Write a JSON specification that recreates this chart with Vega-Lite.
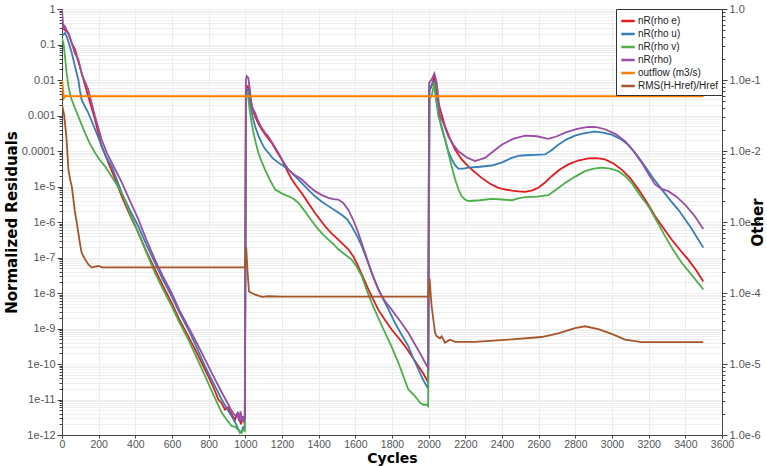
{
  "$schema": "https://vega.github.io/schema/vega-lite/v6.json",
  "width": 660,
  "height": 426,
  "autosize": {"type": "none"},
  "padding": {"left": 62, "top": 9, "right": 45, "bottom": 32},
  "background": "white",
  "config": {
    "view": {"stroke": null},
    "font": "Liberation Sans",
    "axis": {
      "domainColor": "#444444",
      "tickColor": "#444444",
      "labelColor": "#555555",
      "labelFontSize": 11,
      "titleFontSize": 15,
      "titleFontWeight": "bold",
      "titleColor": "#000000",
      "titleFont": "DejaVu Sans",
      "labelPadding": 2
    }
  },
  "datasets": {
    "res": [
      {"s":"nR(rho e)","c":0,"v":0.32},{"s":"nR(rho e)","c":10,"v":0.27},{"s":"nR(rho e)","c":35,"v":0.21},{"s":"nR(rho e)","c":53,"v":0.11},{"s":"nR(rho e)","c":71,"v":0.072},{"s":"nR(rho e)","c":89,"v":0.033},{"s":"nR(rho e)","c":107,"v":0.016},{"s":"nR(rho e)","c":125,"v":0.0075},{"s":"nR(rho e)","c":143,"v":0.0035},{"s":"nR(rho e)","c":162,"v":0.0016},{"s":"nR(rho e)","c":180,"v":0.00077},{"s":"nR(rho e)","c":198,"v":0.00032},{"s":"nR(rho e)","c":216,"v":0.000137},{"s":"nR(rho e)","c":235,"v":0.00008},{"s":"nR(rho e)","c":253,"v":0.000047},{"s":"nR(rho e)","c":290,"v":0.000016},{"s":"nR(rho e)","c":326,"v":5.3e-6},{"s":"nR(rho e)","c":370,"v":1.6e-6},{"s":"nR(rho e)","c":416,"v":5.0e-7},{"s":"nR(rho e)","c":460,"v":1.5e-7},{"s":"nR(rho e)","c":507,"v":4.6e-8},{"s":"nR(rho e)","c":550,"v":1.6e-8},{"s":"nR(rho e)","c":598,"v":5.3e-9},{"s":"nR(rho e)","c":640,"v":1.8e-9},{"s":"nR(rho e)","c":689,"v":6.0e-10},{"s":"nR(rho e)","c":735,"v":2.1e-10},{"s":"nR(rho e)","c":780,"v":7.0e-11},{"s":"nR(rho e)","c":820,"v":2.6e-11},{"s":"nR(rho e)","c":853,"v":1.0e-11},{"s":"nR(rho e)","c":870,"v":8e-12},{"s":"nR(rho e)","c":889,"v":5.2e-12},{"s":"nR(rho e)","c":905,"v":6e-12},{"s":"nR(rho e)","c":916,"v":4.7e-12},{"s":"nR(rho e)","c":930,"v":3.5e-12},{"s":"nR(rho e)","c":944,"v":2.7e-12},{"s":"nR(rho e)","c":953,"v":3.9e-12},{"s":"nR(rho e)","c":962,"v":3.8e-12},{"s":"nR(rho e)","c":970,"v":2.6e-12},{"s":"nR(rho e)","c":976,"v":2.0e-12},{"s":"nR(rho e)","c":983,"v":3.2e-12},{"s":"nR(rho e)","c":989,"v":3.0e-12},{"s":"nR(rho e)","c":997,"v":2.5e-12},{"s":"nR(rho e)","c":1003,"v":0.006},{"s":"nR(rho e)","c":1013,"v":0.0067},{"s":"nR(rho e)","c":1025,"v":0.0035},{"s":"nR(rho e)","c":1040,"v":0.0015},{"s":"nR(rho e)","c":1053,"v":0.00095},{"s":"nR(rho e)","c":1070,"v":0.0006},{"s":"nR(rho e)","c":1089,"v":0.00041},{"s":"nR(rho e)","c":1115,"v":0.00026},{"s":"nR(rho e)","c":1144,"v":0.00017},{"s":"nR(rho e)","c":1170,"v":0.0001},{"s":"nR(rho e)","c":1198,"v":0.000058},{"s":"nR(rho e)","c":1225,"v":0.00003},{"s":"nR(rho e)","c":1253,"v":0.000016},{"s":"nR(rho e)","c":1280,"v":0.00001},{"s":"nR(rho e)","c":1307,"v":6.6e-6},{"s":"nR(rho e)","c":1344,"v":3.4e-6},{"s":"nR(rho e)","c":1380,"v":1.8e-6},{"s":"nR(rho e)","c":1435,"v":7.6e-7},{"s":"nR(rho e)","c":1470,"v":4.8e-7},{"s":"nR(rho e)","c":1507,"v":3.2e-7},{"s":"nR(rho e)","c":1535,"v":2.3e-7},{"s":"nR(rho e)","c":1562,"v":1.7e-7},{"s":"nR(rho e)","c":1590,"v":1.05e-7},{"s":"nR(rho e)","c":1616,"v":5.6e-8},{"s":"nR(rho e)","c":1645,"v":2.6e-8},{"s":"nR(rho e)","c":1671,"v":1.26e-8},{"s":"nR(rho e)","c":1700,"v":6.2e-9},{"s":"nR(rho e)","c":1725,"v":3.4e-9},{"s":"nR(rho e)","c":1760,"v":1.8e-9},{"s":"nR(rho e)","c":1798,"v":9.4e-10},{"s":"nR(rho e)","c":1835,"v":5.5e-10},{"s":"nR(rho e)","c":1871,"v":3.2e-10},{"s":"nR(rho e)","c":1910,"v":1.6e-10},{"s":"nR(rho e)","c":1944,"v":8.7e-11},{"s":"nR(rho e)","c":1970,"v":5.5e-11},{"s":"nR(rho e)","c":1996,"v":3.1e-11},{"s":"nR(rho e)","c":2003,"v":0.005},{"s":"nR(rho e)","c":2016,"v":0.0067},{"s":"nR(rho e)","c":2031,"v":0.0128},{"s":"nR(rho e)","c":2040,"v":0.006},{"s":"nR(rho e)","c":2053,"v":0.0023},{"s":"nR(rho e)","c":2070,"v":0.0011},{"s":"nR(rho e)","c":2089,"v":0.0005},{"s":"nR(rho e)","c":2115,"v":0.00023},{"s":"nR(rho e)","c":2144,"v":0.00011},{"s":"nR(rho e)","c":2180,"v":0.000058},{"s":"nR(rho e)","c":2216,"v":0.000037},{"s":"nR(rho e)","c":2253,"v":0.000025},{"s":"nR(rho e)","c":2289,"v":0.0000175},{"s":"nR(rho e)","c":2335,"v":0.000012},{"s":"nR(rho e)","c":2380,"v":9.2e-6},{"s":"nR(rho e)","c":2420,"v":8.2e-6},{"s":"nR(rho e)","c":2453,"v":7.7e-6},{"s":"nR(rho e)","c":2490,"v":7.3e-6},{"s":"nR(rho e)","c":2526,"v":7.1e-6},{"s":"nR(rho e)","c":2565,"v":7.8e-6},{"s":"nR(rho e)","c":2598,"v":9.2e-6},{"s":"nR(rho e)","c":2635,"v":0.000013},{"s":"nR(rho e)","c":2671,"v":0.0000195},{"s":"nR(rho e)","c":2715,"v":0.00003},{"s":"nR(rho e)","c":2762,"v":0.000042},{"s":"nR(rho e)","c":2815,"v":0.000054},{"s":"nR(rho e)","c":2871,"v":0.000062},{"s":"nR(rho e)","c":2915,"v":0.000063},{"s":"nR(rho e)","c":2962,"v":0.000058},{"s":"nR(rho e)","c":3010,"v":0.000044},{"s":"nR(rho e)","c":3053,"v":0.00003},{"s":"nR(rho e)","c":3100,"v":0.000017},{"s":"nR(rho e)","c":3144,"v":8.3e-6},{"s":"nR(rho e)","c":3190,"v":3.6e-6},{"s":"nR(rho e)","c":3235,"v":1.45e-6},{"s":"nR(rho e)","c":3280,"v":6.8e-7},{"s":"nR(rho e)","c":3325,"v":3.2e-7},{"s":"nR(rho e)","c":3370,"v":1.65e-7},{"s":"nR(rho e)","c":3416,"v":8.7e-8},{"s":"nR(rho e)","c":3460,"v":4.3e-8},{"s":"nR(rho e)","c":3498,"v":2.1e-8},

      {"s":"nR(rho u)","c":0,"v":0.2},{"s":"nR(rho u)","c":8,"v":0.19},{"s":"nR(rho u)","c":16,"v":0.21},{"s":"nR(rho u)","c":25,"v":0.17},{"s":"nR(rho u)","c":35,"v":0.12},{"s":"nR(rho u)","c":53,"v":0.059},{"s":"nR(rho u)","c":71,"v":0.024},{"s":"nR(rho u)","c":89,"v":0.0103},{"s":"nR(rho u)","c":98,"v":0.005},{"s":"nR(rho u)","c":107,"v":0.0028},{"s":"nR(rho u)","c":125,"v":0.0018},{"s":"nR(rho u)","c":143,"v":0.0012},{"s":"nR(rho u)","c":162,"v":0.0007},{"s":"nR(rho u)","c":180,"v":0.00041},{"s":"nR(rho u)","c":198,"v":0.00024},{"s":"nR(rho u)","c":216,"v":0.000137},{"s":"nR(rho u)","c":240,"v":0.00007},{"s":"nR(rho u)","c":271,"v":0.000037},{"s":"nR(rho u)","c":300,"v":0.000015},{"s":"nR(rho u)","c":326,"v":6.6e-6},{"s":"nR(rho u)","c":370,"v":2.2e-6},{"s":"nR(rho u)","c":416,"v":7.6e-7},{"s":"nR(rho u)","c":460,"v":2.3e-7},{"s":"nR(rho u)","c":507,"v":7.1e-8},{"s":"nR(rho u)","c":550,"v":2.4e-8},{"s":"nR(rho u)","c":598,"v":8.1e-9},{"s":"nR(rho u)","c":640,"v":2.8e-9},{"s":"nR(rho u)","c":689,"v":9.4e-10},{"s":"nR(rho u)","c":735,"v":2.9e-10},{"s":"nR(rho u)","c":780,"v":8.7e-11},{"s":"nR(rho u)","c":825,"v":3e-11},{"s":"nR(rho u)","c":871,"v":1.0e-11},{"s":"nR(rho u)","c":900,"v":5.5e-12},{"s":"nR(rho u)","c":925,"v":3.4e-12},{"s":"nR(rho u)","c":950,"v":2e-12},{"s":"nR(rho u)","c":971,"v":1.15e-12},{"s":"nR(rho u)","c":980,"v":1.3e-12},{"s":"nR(rho u)","c":989,"v":1.7e-12},{"s":"nR(rho u)","c":997,"v":1.6e-12},{"s":"nR(rho u)","c":1004,"v":0.005},{"s":"nR(rho u)","c":1013,"v":0.0054},{"s":"nR(rho u)","c":1025,"v":0.0023},{"s":"nR(rho u)","c":1040,"v":0.0009},{"s":"nR(rho u)","c":1053,"v":0.0005},{"s":"nR(rho u)","c":1070,"v":0.00028},{"s":"nR(rho u)","c":1089,"v":0.00017},{"s":"nR(rho u)","c":1107,"v":0.000115},{"s":"nR(rho u)","c":1125,"v":0.000089},{"s":"nR(rho u)","c":1150,"v":0.000062},{"s":"nR(rho u)","c":1180,"v":0.000047},{"s":"nR(rho u)","c":1210,"v":0.000037},{"s":"nR(rho u)","c":1235,"v":0.00003},{"s":"nR(rho u)","c":1270,"v":0.00002},{"s":"nR(rho u)","c":1307,"v":0.0000126},{"s":"nR(rho u)","c":1344,"v":8e-6},{"s":"nR(rho u)","c":1380,"v":5.3e-6},{"s":"nR(rho u)","c":1415,"v":3.8e-6},{"s":"nR(rho u)","c":1453,"v":2.8e-6},{"s":"nR(rho u)","c":1490,"v":2.1e-6},{"s":"nR(rho u)","c":1525,"v":1.6e-6},{"s":"nR(rho u)","c":1555,"v":1.2e-6},{"s":"nR(rho u)","c":1580,"v":7.6e-7},{"s":"nR(rho u)","c":1610,"v":4e-7},{"s":"nR(rho u)","c":1635,"v":2.1e-7},{"s":"nR(rho u)","c":1662,"v":9e-8},{"s":"nR(rho u)","c":1689,"v":3.7e-8},{"s":"nR(rho u)","c":1716,"v":1.7e-8},{"s":"nR(rho u)","c":1744,"v":8.1e-9},{"s":"nR(rho u)","c":1780,"v":3.5e-9},{"s":"nR(rho u)","c":1816,"v":1.45e-9},{"s":"nR(rho u)","c":1850,"v":7e-10},{"s":"nR(rho u)","c":1889,"v":3.2e-10},{"s":"nR(rho u)","c":1915,"v":1.5e-10},{"s":"nR(rho u)","c":1944,"v":7.0e-11},{"s":"nR(rho u)","c":1970,"v":3.6e-11},{"s":"nR(rho u)","c":1997,"v":2.0e-11},{"s":"nR(rho u)","c":2005,"v":0.005},{"s":"nR(rho u)","c":2016,"v":0.0075},{"s":"nR(rho u)","c":2027,"v":0.009},{"s":"nR(rho u)","c":2040,"v":0.003},{"s":"nR(rho u)","c":2053,"v":0.0012},{"s":"nR(rho u)","c":2070,"v":0.00045},{"s":"nR(rho u)","c":2089,"v":0.00021},{"s":"nR(rho u)","c":2107,"v":0.0001},{"s":"nR(rho u)","c":2126,"v":0.000058},{"s":"nR(rho u)","c":2144,"v":0.00004},{"s":"nR(rho u)","c":2162,"v":0.000032},{"s":"nR(rho u)","c":2190,"v":0.000032},{"s":"nR(rho u)","c":2216,"v":0.000034},{"s":"nR(rho u)","c":2280,"v":0.000036},{"s":"nR(rho u)","c":2344,"v":0.000039},{"s":"nR(rho u)","c":2400,"v":0.000048},{"s":"nR(rho u)","c":2453,"v":0.000064},{"s":"nR(rho u)","c":2490,"v":0.000073},{"s":"nR(rho u)","c":2526,"v":0.000076},{"s":"nR(rho u)","c":2580,"v":0.000078},{"s":"nR(rho u)","c":2635,"v":0.00008},{"s":"nR(rho u)","c":2670,"v":0.000105},{"s":"nR(rho u)","c":2707,"v":0.00015},{"s":"nR(rho u)","c":2750,"v":0.00021},{"s":"nR(rho u)","c":2798,"v":0.00027},{"s":"nR(rho u)","c":2850,"v":0.00032},{"s":"nR(rho u)","c":2907,"v":0.00035},{"s":"nR(rho u)","c":2950,"v":0.00033},{"s":"nR(rho u)","c":2998,"v":0.00029},{"s":"nR(rho u)","c":3045,"v":0.00022},{"s":"nR(rho u)","c":3089,"v":0.00015},{"s":"nR(rho u)","c":3135,"v":0.000078},{"s":"nR(rho u)","c":3180,"v":0.000037},{"s":"nR(rho u)","c":3225,"v":0.000017},{"s":"nR(rho u)","c":3271,"v":8.3e-6},{"s":"nR(rho u)","c":3316,"v":4.2e-6},{"s":"nR(rho u)","c":3362,"v":2.2e-6},{"s":"nR(rho u)","c":3430,"v":7e-7},{"s":"nR(rho u)","c":3498,"v":1.9e-7},

      {"s":"nR(rho v)","c":0,"v":0.15},{"s":"nR(rho v)","c":8,"v":0.11},{"s":"nR(rho v)","c":16,"v":0.047},{"s":"nR(rho v)","c":25,"v":0.016},{"s":"nR(rho v)","c":35,"v":0.0067},{"s":"nR(rho v)","c":44,"v":0.004},{"s":"nR(rho v)","c":53,"v":0.0028},{"s":"nR(rho v)","c":71,"v":0.0016},{"s":"nR(rho v)","c":89,"v":0.00095},{"s":"nR(rho v)","c":107,"v":0.00055},{"s":"nR(rho v)","c":125,"v":0.00033},{"s":"nR(rho v)","c":150,"v":0.00017},{"s":"nR(rho v)","c":180,"v":0.000089},{"s":"nR(rho v)","c":207,"v":0.000055},{"s":"nR(rho v)","c":235,"v":0.000037},{"s":"nR(rho v)","c":280,"v":0.000016},{"s":"nR(rho v)","c":326,"v":6.6e-6},{"s":"nR(rho v)","c":370,"v":1.8e-6},{"s":"nR(rho v)","c":416,"v":5.0e-7},{"s":"nR(rho v)","c":460,"v":1.4e-7},{"s":"nR(rho v)","c":507,"v":3.7e-8},{"s":"nR(rho v)","c":550,"v":1.3e-8},{"s":"nR(rho v)","c":598,"v":4.3e-9},{"s":"nR(rho v)","c":640,"v":1.5e-9},{"s":"nR(rho v)","c":689,"v":4.9e-10},{"s":"nR(rho v)","c":735,"v":1.5e-10},{"s":"nR(rho v)","c":780,"v":4.6e-11},{"s":"nR(rho v)","c":825,"v":1.4e-11},{"s":"nR(rho v)","c":871,"v":4.3e-12},{"s":"nR(rho v)","c":900,"v":2.6e-12},{"s":"nR(rho v)","c":925,"v":1.8e-12},{"s":"nR(rho v)","c":945,"v":1.7e-12},{"s":"nR(rho v)","c":962,"v":1.4e-12},{"s":"nR(rho v)","c":972,"v":1.2e-12},{"s":"nR(rho v)","c":980,"v":1.15e-12},{"s":"nR(rho v)","c":988,"v":1.4e-12},{"s":"nR(rho v)","c":997,"v":1.3e-12},{"s":"nR(rho v)","c":1004,"v":0.004},{"s":"nR(rho v)","c":1013,"v":0.0044},{"s":"nR(rho v)","c":1025,"v":0.0012},{"s":"nR(rho v)","c":1035,"v":0.0006},{"s":"nR(rho v)","c":1044,"v":0.00033},{"s":"nR(rho v)","c":1057,"v":0.00017},{"s":"nR(rho v)","c":1071,"v":0.000089},{"s":"nR(rho v)","c":1089,"v":0.00005},{"s":"nR(rho v)","c":1107,"v":0.00003},{"s":"nR(rho v)","c":1135,"v":0.000015},{"s":"nR(rho v)","c":1162,"v":8.3e-6},{"s":"nR(rho v)","c":1200,"v":6.3e-6},{"s":"nR(rho v)","c":1235,"v":5.3e-6},{"s":"nR(rho v)","c":1262,"v":4.5e-6},{"s":"nR(rho v)","c":1289,"v":3.5e-6},{"s":"nR(rho v)","c":1316,"v":2.3e-6},{"s":"nR(rho v)","c":1344,"v":1.45e-6},{"s":"nR(rho v)","c":1370,"v":9.5e-7},{"s":"nR(rho v)","c":1398,"v":6.2e-7},{"s":"nR(rho v)","c":1425,"v":4.4e-7},{"s":"nR(rho v)","c":1453,"v":3.2e-7},{"s":"nR(rho v)","c":1480,"v":2.4e-7},{"s":"nR(rho v)","c":1507,"v":1.7e-7},{"s":"nR(rho v)","c":1545,"v":1.2e-7},{"s":"nR(rho v)","c":1580,"v":8.7e-8},{"s":"nR(rho v)","c":1608,"v":5.5e-8},{"s":"nR(rho v)","c":1635,"v":3.0e-8},{"s":"nR(rho v)","c":1662,"v":1.2e-8},{"s":"nR(rho v)","c":1689,"v":5.3e-9},{"s":"nR(rho v)","c":1725,"v":2e-9},{"s":"nR(rho v)","c":1762,"v":7.6e-10},{"s":"nR(rho v)","c":1800,"v":2.9e-10},{"s":"nR(rho v)","c":1835,"v":1.08e-10},{"s":"nR(rho v)","c":1862,"v":4.5e-11},{"s":"nR(rho v)","c":1889,"v":1.9e-11},{"s":"nR(rho v)","c":1910,"v":1.5e-11},{"s":"nR(rho v)","c":1925,"v":1.24e-11},{"s":"nR(rho v)","c":1940,"v":1e-11},{"s":"nR(rho v)","c":1953,"v":8.1e-12},{"s":"nR(rho v)","c":1975,"v":7e-12},{"s":"nR(rho v)","c":1985,"v":7.2e-12},{"s":"nR(rho v)","c":1997,"v":6.5e-12},{"s":"nR(rho v)","c":2005,"v":0.003},{"s":"nR(rho v)","c":2016,"v":0.0035},{"s":"nR(rho v)","c":2031,"v":0.0083},{"s":"nR(rho v)","c":2040,"v":0.003},{"s":"nR(rho v)","c":2053,"v":0.00095},{"s":"nR(rho v)","c":2071,"v":0.0005},{"s":"nR(rho v)","c":2089,"v":0.00022},{"s":"nR(rho v)","c":2107,"v":0.000089},{"s":"nR(rho v)","c":2125,"v":0.000038},{"s":"nR(rho v)","c":2144,"v":0.000016},{"s":"nR(rho v)","c":2162,"v":8.5e-6},{"s":"nR(rho v)","c":2180,"v":5.3e-6},{"s":"nR(rho v)","c":2198,"v":4.3e-6},{"s":"nR(rho v)","c":2216,"v":3.9e-6},{"s":"nR(rho v)","c":2280,"v":4.1e-6},{"s":"nR(rho v)","c":2344,"v":4.5e-6},{"s":"nR(rho v)","c":2400,"v":4.3e-6},{"s":"nR(rho v)","c":2453,"v":4.1e-6},{"s":"nR(rho v)","c":2490,"v":4.6e-6},{"s":"nR(rho v)","c":2526,"v":5.0e-6},{"s":"nR(rho v)","c":2590,"v":5.2e-6},{"s":"nR(rho v)","c":2653,"v":5.7e-6},{"s":"nR(rho v)","c":2700,"v":8.5e-6},{"s":"nR(rho v)","c":2744,"v":0.0000126},{"s":"nR(rho v)","c":2800,"v":0.000019},{"s":"nR(rho v)","c":2853,"v":0.000027},{"s":"nR(rho v)","c":2900,"v":0.000032},{"s":"nR(rho v)","c":2944,"v":0.000034},{"s":"nR(rho v)","c":2990,"v":0.000032},{"s":"nR(rho v)","c":3035,"v":0.000027},{"s":"nR(rho v)","c":3070,"v":0.00002},{"s":"nR(rho v)","c":3107,"v":0.0000126},{"s":"nR(rho v)","c":3150,"v":6e-6},{"s":"nR(rho v)","c":3198,"v":2.8e-6},{"s":"nR(rho v)","c":3245,"v":1.05e-6},{"s":"nR(rho v)","c":3289,"v":4.0e-7},{"s":"nR(rho v)","c":3335,"v":1.6e-7},{"s":"nR(rho v)","c":3380,"v":7.1e-8},{"s":"nR(rho v)","c":3440,"v":3e-8},{"s":"nR(rho v)","c":3498,"v":1.26e-8},

      {"s":"nR(rho)","c":0,"v":0.95},{"s":"nR(rho)","c":4,"v":0.5},{"s":"nR(rho)","c":8,"v":0.26},{"s":"nR(rho)","c":16,"v":0.33},{"s":"nR(rho)","c":25,"v":0.26},{"s":"nR(rho)","c":35,"v":0.2},{"s":"nR(rho)","c":53,"v":0.11},{"s":"nR(rho)","c":71,"v":0.055},{"s":"nR(rho)","c":89,"v":0.038},{"s":"nR(rho)","c":107,"v":0.015},{"s":"nR(rho)","c":125,"v":0.009},{"s":"nR(rho)","c":143,"v":0.0054},{"s":"nR(rho)","c":162,"v":0.0022},{"s":"nR(rho)","c":180,"v":0.00095},{"s":"nR(rho)","c":198,"v":0.00045},{"s":"nR(rho)","c":216,"v":0.00021},{"s":"nR(rho)","c":244,"v":0.00009},{"s":"nR(rho)","c":271,"v":0.000048},{"s":"nR(rho)","c":300,"v":0.000024},{"s":"nR(rho)","c":326,"v":0.000013},{"s":"nR(rho)","c":370,"v":4e-6},{"s":"nR(rho)","c":416,"v":1.2e-6},{"s":"nR(rho)","c":460,"v":3.2e-7},{"s":"nR(rho)","c":507,"v":8.7e-8},{"s":"nR(rho)","c":550,"v":3e-8},{"s":"nR(rho)","c":598,"v":1.0e-8},{"s":"nR(rho)","c":640,"v":3.3e-9},{"s":"nR(rho)","c":689,"v":1.1e-9},{"s":"nR(rho)","c":735,"v":3.9e-10},{"s":"nR(rho)","c":780,"v":1.35e-10},{"s":"nR(rho)","c":825,"v":4.6e-11},{"s":"nR(rho)","c":871,"v":1.6e-11},{"s":"nR(rho)","c":900,"v":8.5e-12},{"s":"nR(rho)","c":916,"v":5.9e-12},{"s":"nR(rho)","c":935,"v":4e-12},{"s":"nR(rho)","c":953,"v":3.2e-12},{"s":"nR(rho)","c":960,"v":4.5e-12},{"s":"nR(rho)","c":965,"v":2.5e-12},{"s":"nR(rho)","c":974,"v":4.6e-12},{"s":"nR(rho)","c":982,"v":2.3e-12},{"s":"nR(rho)","c":987,"v":3.4e-12},{"s":"nR(rho)","c":992,"v":2.5e-12},{"s":"nR(rho)","c":998,"v":3.0e-12},{"s":"nR(rho)","c":1003,"v":0.0103},{"s":"nR(rho)","c":1008,"v":0.0128},{"s":"nR(rho)","c":1016,"v":0.0115},{"s":"nR(rho)","c":1025,"v":0.0054},{"s":"nR(rho)","c":1034,"v":0.0018},{"s":"nR(rho)","c":1053,"v":0.0012},{"s":"nR(rho)","c":1070,"v":0.0007},{"s":"nR(rho)","c":1089,"v":0.00045},{"s":"nR(rho)","c":1107,"v":0.00033},{"s":"nR(rho)","c":1125,"v":0.00026},{"s":"nR(rho)","c":1150,"v":0.00016},{"s":"nR(rho)","c":1180,"v":0.000089},{"s":"nR(rho)","c":1207,"v":0.00005},{"s":"nR(rho)","c":1235,"v":0.00003},{"s":"nR(rho)","c":1270,"v":0.000021},{"s":"nR(rho)","c":1307,"v":0.000016},{"s":"nR(rho)","c":1344,"v":0.0000105},{"s":"nR(rho)","c":1380,"v":7.4e-6},{"s":"nR(rho)","c":1415,"v":5.8e-6},{"s":"nR(rho)","c":1453,"v":4.8e-6},{"s":"nR(rho)","c":1480,"v":4.4e-6},{"s":"nR(rho)","c":1507,"v":4.3e-6},{"s":"nR(rho)","c":1535,"v":3.4e-6},{"s":"nR(rho)","c":1562,"v":2.2e-6},{"s":"nR(rho)","c":1590,"v":1.1e-6},{"s":"nR(rho)","c":1616,"v":5.0e-7},{"s":"nR(rho)","c":1645,"v":1.8e-7},{"s":"nR(rho)","c":1671,"v":7.1e-8},{"s":"nR(rho)","c":1698,"v":2.8e-8},{"s":"nR(rho)","c":1725,"v":1.26e-8},{"s":"nR(rho)","c":1760,"v":6e-9},{"s":"nR(rho)","c":1798,"v":3.4e-9},{"s":"nR(rho)","c":1845,"v":1.6e-9},{"s":"nR(rho)","c":1889,"v":7.6e-10},{"s":"nR(rho)","c":1925,"v":3.6e-10},{"s":"nR(rho)","c":1962,"v":1.66e-10},{"s":"nR(rho)","c":1980,"v":1.1e-10},{"s":"nR(rho)","c":1998,"v":7.6e-11},{"s":"nR(rho)","c":2002,"v":0.0083},{"s":"nR(rho)","c":2016,"v":0.0103},{"s":"nR(rho)","c":2031,"v":0.0152},{"s":"nR(rho)","c":2044,"v":0.0083},{"s":"nR(rho)","c":2053,"v":0.003},{"s":"nR(rho)","c":2062,"v":0.00095},{"s":"nR(rho)","c":2080,"v":0.00062},{"s":"nR(rho)","c":2107,"v":0.00026},{"s":"nR(rho)","c":2135,"v":0.00015},{"s":"nR(rho)","c":2162,"v":0.000098},{"s":"nR(rho)","c":2210,"v":0.000065},{"s":"nR(rho)","c":2253,"v":0.000052},{"s":"nR(rho)","c":2307,"v":0.000064},{"s":"nR(rho)","c":2350,"v":0.000095},{"s":"nR(rho)","c":2398,"v":0.00015},{"s":"nR(rho)","c":2460,"v":0.00022},{"s":"nR(rho)","c":2526,"v":0.00027},{"s":"nR(rho)","c":2590,"v":0.00026},{"s":"nR(rho)","c":2653,"v":0.00022},{"s":"nR(rho)","c":2700,"v":0.00026},{"s":"nR(rho)","c":2744,"v":0.00033},{"s":"nR(rho)","c":2810,"v":0.00042},{"s":"nR(rho)","c":2871,"v":0.00048},{"s":"nR(rho)","c":2915,"v":0.00047},{"s":"nR(rho)","c":2962,"v":0.00041},{"s":"nR(rho)","c":3020,"v":0.0003},{"s":"nR(rho)","c":3071,"v":0.00019},{"s":"nR(rho)","c":3120,"v":0.000095},{"s":"nR(rho)","c":3162,"v":0.000047},{"s":"nR(rho)","c":3200,"v":0.000022},{"s":"nR(rho)","c":3235,"v":0.0000114},{"s":"nR(rho)","c":3270,"v":8.6e-6},{"s":"nR(rho)","c":3307,"v":7.4e-6},{"s":"nR(rho)","c":3355,"v":5e-6},{"s":"nR(rho)","c":3398,"v":3.1e-6},{"s":"nR(rho)","c":3450,"v":1.5e-6},{"s":"nR(rho)","c":3498,"v":6.4e-7}
    ],
    "oth": [
      {"s":"outflow (m3/s)","c":0,"v":0.1},{"s":"outflow (m3/s)","c":5,"v":0.08},{"s":"outflow (m3/s)","c":10,"v":0.055},{"s":"outflow (m3/s)","c":20,"v":0.06},{"s":"outflow (m3/s)","c":40,"v":0.059},{"s":"outflow (m3/s)","c":3500,"v":0.059},

      {"s":"RMS(H-Href)/Href","c":0,"v":0.045},{"s":"RMS(H-Href)/Href","c":11,"v":0.033},{"s":"RMS(H-Href)/Href","c":20,"v":0.02},{"s":"RMS(H-Href)/Href","c":25,"v":0.0145},{"s":"RMS(H-Href)/Href","c":35,"v":0.0055},{"s":"RMS(H-Href)/Href","c":44,"v":0.004},{"s":"RMS(H-Href)/Href","c":53,"v":0.0032},{"s":"RMS(H-Href)/Href","c":62,"v":0.0021},{"s":"RMS(H-Href)/Href","c":71,"v":0.00136},{"s":"RMS(H-Href)/Href","c":80,"v":0.001},{"s":"RMS(H-Href)/Href","c":89,"v":0.00071},{"s":"RMS(H-Href)/Href","c":98,"v":0.0005},{"s":"RMS(H-Href)/Href","c":107,"v":0.00037},{"s":"RMS(H-Href)/Href","c":125,"v":0.0003},{"s":"RMS(H-Href)/Href","c":145,"v":0.00025},{"s":"RMS(H-Href)/Href","c":162,"v":0.000228},{"s":"RMS(H-Href)/Href","c":180,"v":0.000235},{"s":"RMS(H-Href)/Href","c":198,"v":0.00024},{"s":"RMS(H-Href)/Href","c":220,"v":0.00023},{"s":"RMS(H-Href)/Href","c":998,"v":0.00023},{"s":"RMS(H-Href)/Href","c":1005,"v":0.00044},{"s":"RMS(H-Href)/Href","c":1012,"v":0.0002},{"s":"RMS(H-Href)/Href","c":1020,"v":0.000105},{"s":"RMS(H-Href)/Href","c":1035,"v":0.0001},{"s":"RMS(H-Href)/Href","c":1053,"v":0.000095},{"s":"RMS(H-Href)/Href","c":1071,"v":0.000092},{"s":"RMS(H-Href)/Href","c":1089,"v":0.000088},{"s":"RMS(H-Href)/Href","c":1125,"v":0.00009},{"s":"RMS(H-Href)/Href","c":1200,"v":0.000089},{"s":"RMS(H-Href)/Href","c":1998,"v":0.000089},{"s":"RMS(H-Href)/Href","c":2005,"v":0.00016},{"s":"RMS(H-Href)/Href","c":2016,"v":0.000065},{"s":"RMS(H-Href)/Href","c":2035,"v":0.0000275},{"s":"RMS(H-Href)/Href","c":2044,"v":0.0000245},{"s":"RMS(H-Href)/Href","c":2062,"v":0.000023},{"s":"RMS(H-Href)/Href","c":2071,"v":0.0000245},{"s":"RMS(H-Href)/Href","c":2089,"v":0.00002},{"s":"RMS(H-Href)/Href","c":2116,"v":0.000022},{"s":"RMS(H-Href)/Href","c":2144,"v":0.0000205},{"s":"RMS(H-Href)/Href","c":2200,"v":0.0000205},{"s":"RMS(H-Href)/Href","c":2253,"v":0.0000205},{"s":"RMS(H-Href)/Href","c":2435,"v":0.000022},{"s":"RMS(H-Href)/Href","c":2616,"v":0.000024},{"s":"RMS(H-Href)/Href","c":2707,"v":0.000027},{"s":"RMS(H-Href)/Href","c":2798,"v":0.000032},{"s":"RMS(H-Href)/Href","c":2853,"v":0.000034},{"s":"RMS(H-Href)/Href","c":2925,"v":0.000031},{"s":"RMS(H-Href)/Href","c":2998,"v":0.0000265},{"s":"RMS(H-Href)/Href","c":3071,"v":0.000022},{"s":"RMS(H-Href)/Href","c":3162,"v":0.0000203},{"s":"RMS(H-Href)/Href","c":3498,"v":0.0000203}
    ]
  },
  "layer": [
    {
      "data": {"name": "res"},
      "mark": {"type": "line", "strokeWidth": 1.8, "clip": true},
      "encoding": {
        "x": {
          "field": "c", "type": "quantitative",
          "scale": {"domain": [0, 3600], "nice": false, "zero": false},
          "axis": {
            "title": "Cycles", "format": "d",
            "values": [0,200,400,600,800,1000,1200,1400,1600,1800,2000,2200,2400,2600,2800,3000,3200,3400,3600],
            "grid": true, "gridColor": "#ebebeb", "tickSize": 3, "labelFlush": false, "labelOverlap": false,
            "titlePadding": 2, "titleFontSize": 14, "labelPadding": 1, "labelFontSize": 10.5
          }
        },
        "y": {
          "field": "v", "type": "quantitative",
          "scale": {"type": "log", "domain": [1e-12, 1], "nice": false},
          "axis": {
            "title": "Normalized Residuals",
            "orient": "left",
            "values": [1e-12,2e-12,3e-12,4e-12,5e-12,6e-12,7e-12,8e-12,9e-12,1e-11,2e-11,3e-11,4e-11,5e-11,6e-11,7e-11,8e-11,9e-11,1e-10,2e-10,3e-10,4e-10,5e-10,6e-10,7e-10,8e-10,9e-10,1e-9,2e-9,3e-9,4e-9,5e-9,6e-9,7e-9,8e-9,9e-9,1e-8,2e-8,3e-8,4e-8,5e-8,6e-8,7e-8,8e-8,9e-8,1e-7,2e-7,3e-7,4e-7,5e-7,6e-7,7e-7,8e-7,9e-7,1e-6,2e-6,3e-6,4e-6,5e-6,6e-6,7e-6,8e-6,9e-6,1e-5,2e-5,3e-5,4e-5,5e-5,6e-5,7e-5,8e-5,9e-5,1e-4,2e-4,3e-4,4e-4,5e-4,6e-4,7e-4,8e-4,9e-4,0.001,0.002,0.003,0.004,0.005,0.006,0.007,0.008,0.009,0.01,0.02,0.03,0.04,0.05,0.06,0.07,0.08,0.09,0.1,0.2,0.3,0.4,0.5,0.6,0.7,0.8,0.9,1],
            "labelExpr": "abs(log(datum.value)/LN10 - round(log(datum.value)/LN10)) > 0.01 ? '' : (round(log(datum.value)/LN10) >= -4 ? format(datum.value, '.' + max(0, -round(log(datum.value)/LN10)) + 'f') : '1e' + round(log(datum.value)/LN10))",
            "labelOverlap": false, "labelFlush": false,
            "tickSize": {"condition": {"test": "abs(log(datum.value)/LN10 - round(log(datum.value)/LN10)) < 0.01", "value": 5}, "value": 3},
            "grid": true, "gridColor": "#efefef",
            "titlePadding": 2
          }
        },
        "color": {
          "field": "s", "type": "nominal",
          "scale": {
            "domain": ["nR(rho e)", "nR(rho u)", "nR(rho v)", "nR(rho)", "outflow (m3/s)", "RMS(H-Href)/Href"],
            "range": ["#e41a1c", "#377eb8", "#4daf4a", "#984ea3", "#ff7f00", "#a65628"]
          },
          "legend": {
            "title": null, "orient": "top-right", "offset": 0, "padding": 4,
            "strokeColor": "#333333", "fillColor": "white",
            "symbolType": "stroke", "symbolStrokeWidth": 2.5, "symbolSize": 180,
            "labelFontSize": 10, "labelColor": "#222222", "rowPadding": 0, "labelOffset": 2
          }
        }
      }
    },
    {
      "data": {"name": "oth"},
      "mark": {"type": "line", "strokeWidth": 1.8, "clip": true},
      "encoding": {
        "x": {
          "field": "c", "type": "quantitative",
          "axis": {
            "title": "Cycles", "format": "d",
            "values": [0,200,400,600,800,1000,1200,1400,1600,1800,2000,2200,2400,2600,2800,3000,3200,3400,3600],
            "grid": true, "gridColor": "#ebebeb", "tickSize": 3, "labelFlush": false, "labelOverlap": false,
            "titlePadding": 2, "titleFontSize": 14, "labelPadding": 1, "labelFontSize": 10.5
          }
        },
        "y": {
          "field": "v", "type": "quantitative",
          "scale": {"type": "log", "domain": [1e-6, 1], "nice": false},
          "axis": {
            "title": "Other",
            "orient": "right",
            "titleAngle": 270,
            "values": [1e-6,2e-6,3e-6,4e-6,5e-6,6e-6,7e-6,8e-6,9e-6,1e-5,2e-5,3e-5,4e-5,5e-5,6e-5,7e-5,8e-5,9e-5,1e-4,2e-4,3e-4,4e-4,5e-4,6e-4,7e-4,8e-4,9e-4,0.001,0.002,0.003,0.004,0.005,0.006,0.007,0.008,0.009,0.01,0.02,0.03,0.04,0.05,0.06,0.07,0.08,0.09,0.1,0.2,0.3,0.4,0.5,0.6,0.7,0.8,0.9,1],
            "labelExpr": "abs(log(datum.value)/LN10 - round(log(datum.value)/LN10)) > 0.01 ? '' : (round(log(datum.value)/LN10) == 0 ? '1.0' : '1.0e' + round(log(datum.value)/LN10))",
            "labelOverlap": false, "labelFlush": false,
            "tickSize": {"condition": {"test": "abs(log(datum.value)/LN10 - round(log(datum.value)/LN10)) < 0.01", "value": 5}, "value": 3},
            "grid": false,
            "titlePadding": 5
          }
        },
        "color": {
          "field": "s", "type": "nominal",
          "scale": {
            "domain": ["nR(rho e)", "nR(rho u)", "nR(rho v)", "nR(rho)", "outflow (m3/s)", "RMS(H-Href)/Href"],
            "range": ["#e41a1c", "#377eb8", "#4daf4a", "#984ea3", "#ff7f00", "#a65628"]
          }
        }
      }
    }
  ],
  "resolve": {"scale": {"y": "independent"}}
}
